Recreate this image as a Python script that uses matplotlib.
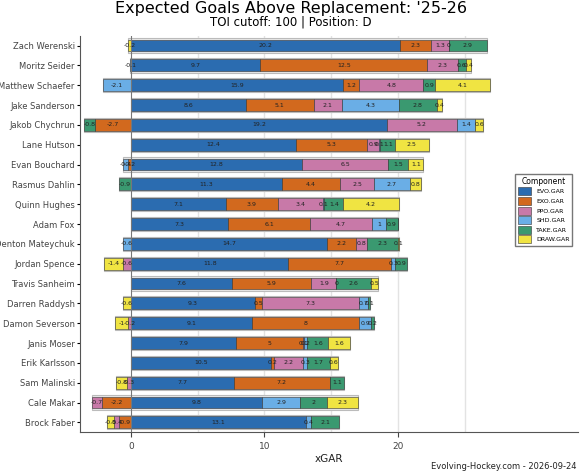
import numpy as np
import matplotlib.pyplot as plt

players = ['Zach Werenski', 'Moritz Seider', 'Matthew Schaefer', 'Jake Sanderson', 'Jakob Chychrun',
           'Lane Hutson', 'Evan Bouchard', 'Rasmus Dahlin', 'Quinn Hughes', 'Adam Fox',
           'Denton Mateychuk', 'Jordan Spence', 'Travis Sanheim', 'Darren Raddysh', 'Damon Severson',
           'Janis Moser', 'Erik Karlsson', 'Sam Malinski', 'Cale Makar', 'Brock Faber']
evo = [20.2, 9.7, 15.9, 8.6, 19.2, 12.4, 12.8, 11.3, 7.1, 7.3, 14.7, 11.8, 7.6, 9.3, 9.1, 7.9, 10.5, 7.7, 9.8, 13.1]
exo = [2.3, 12.5, 1.2, 5.1, -2.7, 5.3, -0.2, 4.4, 3.9, 6.1, 2.2, 7.7, 5.9, 0.5, 8.0, 5.0, 0.2, 7.2, -2.2, -0.9]
ppo = [1.3, 2.3, 4.8, 2.1, 5.2, 0.9, 6.5, 2.5, 3.4, 4.7, 0.8, -0.6, 1.9, 7.3, -0.2, 0.1, 2.2, -0.3, -0.7, -0.4]
sho = [0.0, -0.1, -2.1, 4.3, 1.4, 0.1, -0.4, 2.7, 0.1, 1.0, -0.6, 0.3, 0.0, 0.7, 0.9, 0.2, 0.3, 0.0, 2.9, 0.4]
take = [2.9, 0.6, 0.9, 2.8, -0.8, 1.1, 1.5, -0.9, 1.4, 0.9, 2.3, 0.9, 2.6, 0.1, 0.2, 1.6, 1.7, 1.1, 2.0, 2.1]
draw = [-0.2, 0.4, 4.1, 0.4, 0.6, 2.5, 1.1, 0.8, 4.2, 0.0, 0.1, -1.4, 0.5, -0.6, -1.0, 1.6, 0.6, -0.8, 2.3, -0.5]

comps = ['EVO.GAR', 'EXO.GAR', 'PPO.GAR', 'SHD.GAR', 'TAKE.GAR', 'DRAW.GAR']
colors = ['#2b6cb0', '#d2691e', '#c879a8', '#6aaee6', '#3a9970', '#f0e442']
data = np.array([evo, exo, ppo, sho, take, draw])

fig, ax = plt.subplots(figsize=(5.82, 4.75), dpi=100)
fig.subplots_adjust(left=0.138, right=0.993, top=0.925, bottom=0.09)
y = np.arange(len(players))

pos = np.where(data > 0, data, 0)
neg = np.where(data < 0, data, 0)
# grey background span
ax.barh(y, pos.sum(0) - neg.sum(0), left=neg.sum(0), height=0.72, color='#e6e6e6',
        edgecolor='#bbbbbb', linewidth=0.8, zorder=1)
pl = np.zeros(len(players))
nl = np.zeros(len(players))
for i, c in enumerate(comps):
    v = data[i]
    left = np.where(v >= 0, pl, nl + v)
    ax.barh(y, v, left=np.where(v >= 0, pl, nl), height=0.6, color=colors[i],
            edgecolor='#333333', linewidth=0.4, label=c, zorder=2)
    for j in range(len(players)):
        if v[j] != 0 or (i == 3 and j in (0, 12)):
            lab = f'{v[j]:g}'
            ax.text(left[j] + abs(v[j]) / 2, y[j], lab, ha='center', va='center',
                    fontsize=4.5, color='#222222', zorder=3)
    pl = pl + np.where(v > 0, v, 0)
    nl = nl + np.where(v < 0, v, 0)

ax.set_yticks(y)
ax.set_yticklabels(players, fontsize=6, color='#444444')
ax.invert_yaxis()
ax.set_ylim(len(players) - 0.5, -0.5)
ax.set_xlim(-3.8, 33.5)
ax.set_xticks([0, 10, 20])
ax.tick_params(axis='x', labelsize=6.5, colors='#444444')
ax.tick_params(axis='y', length=2.5, pad=1.5)
for xv in [0, 5, 10, 15, 20, 25]:
    ax.axvline(xv, color='#e3e3e3' if xv else '#777777', linewidth=1.0 if xv else 0.8, zorder=0 if xv else 2.5)
ax.spines['top'].set_visible(False)
ax.spines['right'].set_visible(False)
ax.spines['left'].set_color('#555555')
ax.spines['bottom'].set_color('#555555')
ax.set_xlabel('xGAR', fontsize=7.5, color='#222222', labelpad=2)
fig.suptitle("Expected Goals Above Replacement: '25-26", fontsize=11.5, y=0.997)
fig.text(0.5, 0.947, 'TOI cutoff: 100 | Position: D', ha='center', fontsize=8.5)
fig.text(0.99, 0.012, 'Evolving-Hockey.com - 2026-09-24', ha='right', fontsize=6, color='#222222')
leg = ax.legend(title='Component', loc='center right', fontsize=4.5, title_fontsize=5.5,
                frameon=True, edgecolor='#555555', fancybox=False, handlelength=2.2,
                handleheight=1.6, labelspacing=0.25, bbox_to_anchor=(0.995, 0.56))
plt.savefig('out.png', dpi=100)
